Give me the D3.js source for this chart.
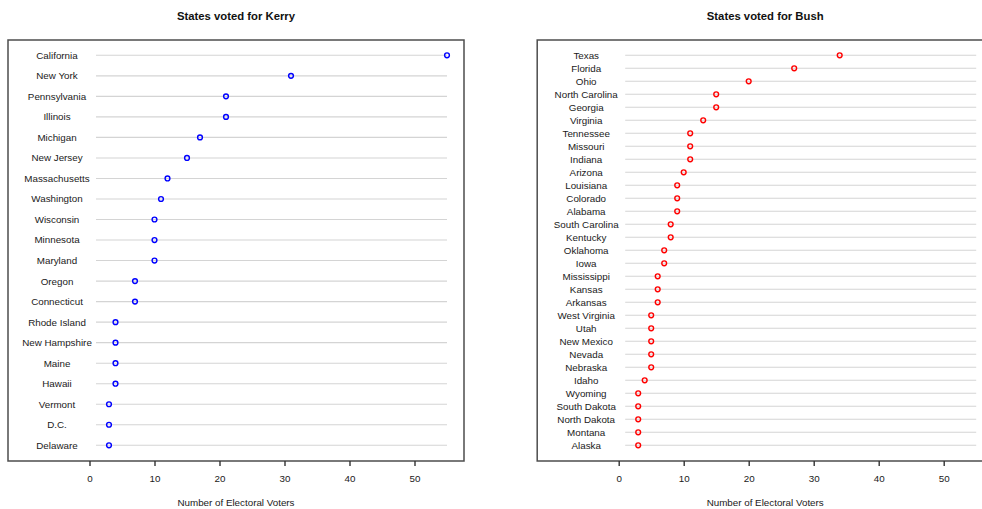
<!DOCTYPE html>
<html>
<head>
<meta charset="utf-8">
<script src="https://cdn.jsdelivr.net/npm/d3@7"></script>
<style>
  html, body { margin: 0; padding: 0; background: #fff; }
  svg { display: block; font-family: "Liberation Sans", Arial, sans-serif; }
</style>
</head>
<body>
<svg id="chart" width="982" height="509"></svg>
<script>
// Electoral votes, 2004, by state (sorted high to low within each panel)
const kerryStates = ["California", "New York", "Pennsylvania", "Illinois", "Michigan", "New Jersey",
  "Massachusetts", "Washington", "Wisconsin", "Minnesota", "Maryland", "Oregon", "Connecticut",
  "Rhode Island", "New Hampshire", "Maine", "Hawaii", "Vermont", "D.C.", "Delaware"];
const kerryVotes = [55, 31, 21, 21, 17, 15, 12, 11, 10, 10, 10, 7, 7, 4, 4, 4, 4, 3, 3, 3];

const bushStates = ["Texas", "Florida", "Ohio", "North Carolina", "Georgia", "Virginia", "Tennessee",
  "Missouri", "Indiana", "Arizona", "Louisiana", "Colorado", "Alabama", "South Carolina", "Kentucky",
  "Oklahoma", "Iowa", "Mississippi", "Kansas", "Arkansas", "West Virginia", "Utah", "New Mexico",
  "Nevada", "Nebraska", "Idaho", "Wyoming", "South Dakota", "North Dakota", "Montana", "Alaska"];
const bushVotes = [34, 27, 20, 15, 15, 13, 11, 11, 11, 10, 9, 9, 9, 8, 8, 7, 7, 6, 6, 6, 5, 5, 5, 5, 5, 4, 3, 3, 3, 3, 3];

const xTicks = [0, 10, 20, 30, 40, 50];
const xTitle = "Number of Electoral Voters";
const lineExtent = [1, 55];

const svg = d3.select("#chart");

function panel(opts) {
  const { left, top, width, height, title, states, votes, color } = opts;
  const g = svg.append("g").attr("transform", `translate(${left},${top})`);

  const x = d3.scaleLinear().domain([0, 50]).range([81.5, 406.5]);
  const y = d3.scalePoint().domain(states).range([15.3, 405.3]);

  // title
  svg.append("text")
    .attr("x", left + width / 2)
    .attr("y", 16)
    .attr("dy", "0.35em")
    .attr("text-anchor", "middle")
    .attr("font-weight", "bold")
    .attr("font-size", "11.3px")
    .attr("fill", "#111")
    .text(title);

  // guide lines per state
  g.selectAll("line.guide")
    .data(states)
    .join("line")
    .attr("class", "guide")
    .attr("x1", x(lineExtent[0]))
    .attr("x2", x(lineExtent[1]))
    .attr("y1", d => y(d))
    .attr("y2", d => y(d))
    .attr("stroke", "#d4d4d4")
    .attr("stroke-width", 1.1);

  // state labels
  g.selectAll("text.state")
    .data(states)
    .join("text")
    .attr("class", "state")
    .attr("x", 49)
    .attr("y", d => y(d))
    .attr("dy", "0.35em")
    .attr("text-anchor", "middle")
    .attr("font-size", "9.8px")
    .attr("fill", "#1a1a1a")
    .text(d => d);

  // points
  g.selectAll("circle.pt")
    .data(states.map((s, i) => ({ s, v: votes[i] })))
    .join("circle")
    .attr("class", "pt")
    .attr("cx", d => x(d.v))
    .attr("cy", d => y(d.s))
    .attr("r", 2.4)
    .attr("fill", "none")
    .attr("stroke", color)
    .attr("stroke-width", 1.4);

  // frame
  g.append("rect")
    .attr("x", 0)
    .attr("y", 0)
    .attr("width", width)
    .attr("height", height)
    .attr("fill", "none")
    .attr("stroke", "#4d4d4d")
    .attr("stroke-width", 1.5);

  // x axis along the bottom edge
  const axis = g.append("g")
    .attr("transform", `translate(0,${height})`)
    .call(d3.axisBottom(x).tickValues(xTicks).tickSize(5).tickPadding(9).tickFormat(d3.format("d")));
  axis.select(".domain").remove();
  axis.selectAll(".tick line").attr("stroke", "#333").attr("stroke-width", 1.4);
  axis.selectAll(".tick text")
    .attr("font-family", "Liberation Sans, Arial, sans-serif")
    .attr("font-size", "9.8px")
    .attr("fill", "#1a1a1a");

  g.append("text")
    .attr("x", width / 2)
    .attr("y", height + 42)
    .attr("dy", "0.35em")
    .attr("text-anchor", "middle")
    .attr("font-size", "9.8px")
    .attr("fill", "#1a1a1a")
    .text(xTitle);
}

panel({ left: 8, top: 40, width: 456, height: 421,
  title: "States voted for Kerry", states: kerryStates, votes: kerryVotes, color: "#0000ff" });
panel({ left: 537.2, top: 40, width: 456, height: 421,
  title: "States voted for Bush", states: bushStates, votes: bushVotes, color: "#ff0000" });
</script>
</body>
</html>
